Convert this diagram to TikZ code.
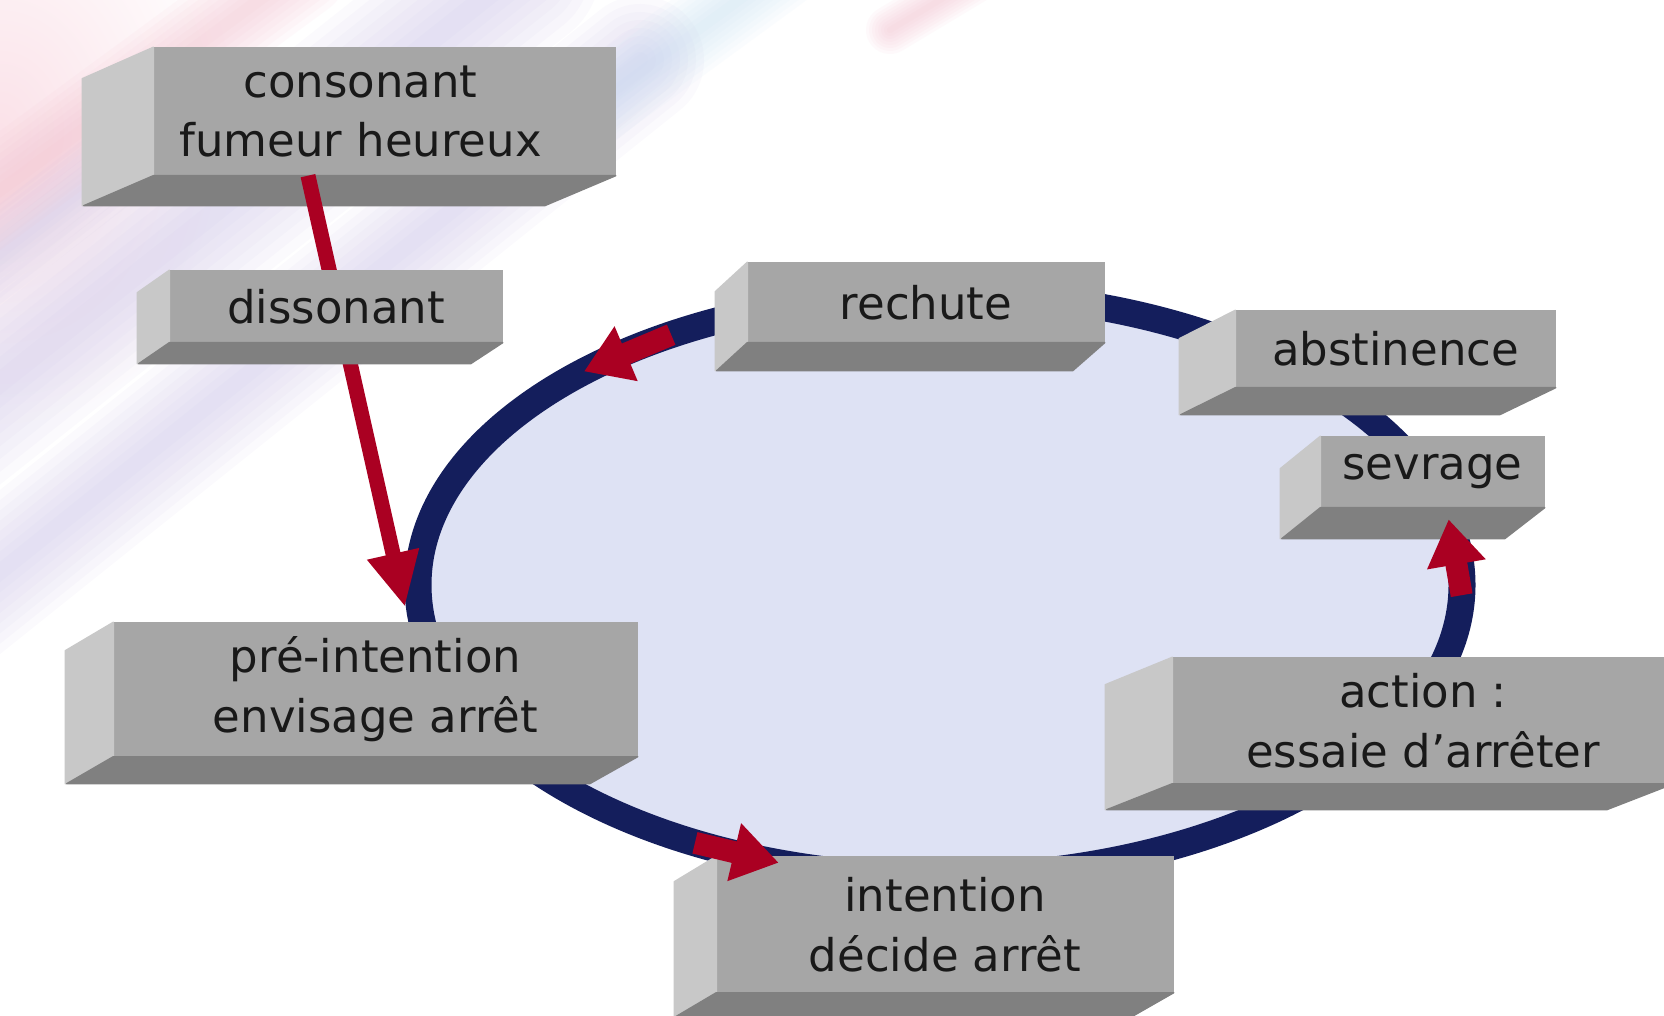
\documentclass[tikz,border=0pt]{standalone}
\usepackage{fontspec}
\setmainfont{DejaVu Sans}
\usetikzlibrary{arrows.meta}

\definecolor{boxfront}{RGB}{166,166,166}
\definecolor{boxside}{RGB}{200,200,200}
\definecolor{boxbottom}{RGB}{128,128,128}
\definecolor{ringfill}{RGB}{222,226,244}
\definecolor{ringnavy}{RGB}{20,30,92}
\definecolor{arrowred}{RGB}{170,0,34}
\definecolor{streaklav}{RGB}{205,198,235}
\definecolor{streakpink}{RGB}{245,190,205}
\definecolor{streakblue}{RGB}{200,228,245}

\newdimen\px
\px=0.01cm

\tikzset{
  front/.style={fill=boxfront, draw=boxfront, line width=0.4pt, inner sep=0pt,
    align=center, text=black!90, font=\fontsize{12.8}{17}\selectfont},
  side/.style={fill=boxside, draw=boxside, line width=0.4pt, line join=round},
  base/.style={fill=boxbottom, draw=boxbottom, line width=0.4pt, line join=round},
  ring/.style={draw=ringnavy, line width=27\px, fill=ringfill},
  fleche/.style={draw=arrowred, line width=15\px, -{Triangle[width=14pt,length=15.5pt]}},
  ringarrow/.style={draw=arrowred, line width=22\px, -{Triangle[width=16pt,length=13pt]}},
  streak/.style={opacity=0.08, line cap=round},
}

% bloc: name, left, top, width, height, depth, text
\newcommand\bloc[7]{%
  \node[front, minimum width=#4\px, minimum height=#5\px] (#1) at ({#2+#4/2},{#3+#5/2}) {#7};
  \filldraw[side] (#1.north west) -- (#1.south west) -- ++(#6) -- ++(0,-#5) -- cycle;
  \filldraw[base] (#1.south west) -- (#1.south east) -- ++(#6) -- ++(-#4,0) -- cycle;
}

\begin{document}
\begin{tikzpicture}[x=0.01cm, y=-0.01cm]
% fond
\fill[white] (0,0) rectangle (1664,1016);
\useasboundingbox (0,0) rectangle (1664,1016);
\shade[inner color=streakpink!45, outer color=white] (0,130) ellipse [x radius=240, y radius=300];
\foreach \w in {20,40,...,160} {
  \draw[streak, streaklav, line width=\w\px] (-60,430) -- (520,-30);
  \draw[streak, streaklav, line width=0.8*\w\px] (-60,620) -- (640,60);
  \draw[streak, streaklav, line width=0.5*\w\px] (-60,300) -- (200,100);
  \draw[streak, streakpink, line width=0.6*\w\px] (-40,220) -- (300,-30);
  \draw[streak, streakblue, line width=0.5*\w\px] (520,160) -- (780,-30);
  \draw[streak, streakpink, line width=0.3*\w\px] (890,30) -- (990,-30);
}

% cycle
\coordinate (centre) at (940,585);
\draw[ring] (centre) ellipse [x radius=522, y radius=292];
\path (centre) ++(-121:522 and 292) coordinate (r1)
      (centre) ++(-133:522 and 292) coordinate (r2)
      (centre) ++(118:522 and 292) coordinate (i1)
      (centre) ++(108:522 and 292) coordinate (i2)
      (centre) ++(2:522 and 292) coordinate (s1)
      (centre) ++(-13:522 and 292) coordinate (s2);

\coordinate (drop) at (405,607);

% les etapes
\bloc{consonant}{154}{48}{461}{127}{-71,30}{\hspace*{-48\px}consonant\\\hspace*{-48\px}fumeur heureux}
\draw[fleche] (consonant.220) -- (drop);
\bloc{dissonant}{170}{271}{332}{71}{-32,21}{dissonant}
\bloc{rechute}{748}{263}{356}{79}{-32,28}{rechute}
\bloc{abstinence}{1236}{311}{319}{76}{-56,27}{abstinence}
\bloc{sevrage}{1321}{437}{223}{70}{-40,31}{sevrage}
\bloc{preintention}{114}{623}{523}{133}{-48,27}{pré-intention\\envisage arrêt}
\bloc{action}{1173}{658}{500}{125}{-67,26}{action :\\essaie d’arrêter}
\bloc{intention}{717}{857}{456}{135}{-42,24}{intention\\décide arrêt}

% sens du cycle
\draw[ringarrow] (r1) -- (r2);
\draw[ringarrow] (i1) -- (i2);
\draw[ringarrow] (s1) -- (s2);
\end{tikzpicture}
\end{document}
